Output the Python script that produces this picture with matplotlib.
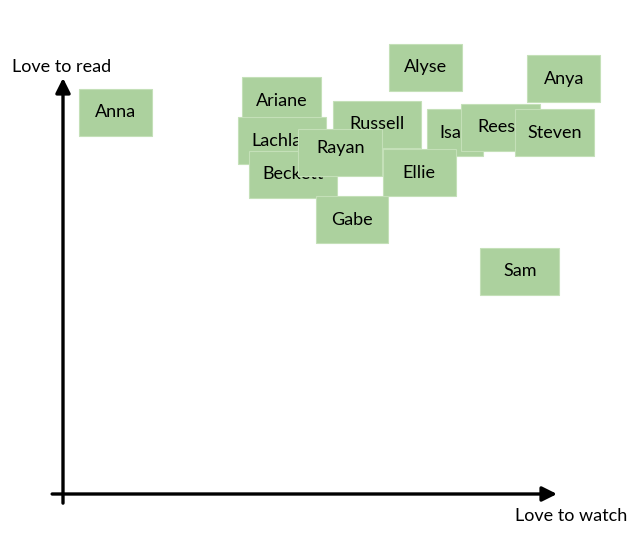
import matplotlib
matplotlib.use("Agg")
import matplotlib.pyplot as plt
from matplotlib.patches import Rectangle

# ---- data: position of each person's note (watch score, read score), drawn in this order
names = ["Ariane", "Lachlan", "Beckett", "Russell", "Rayan", "Gabe", "Isa",
         "Ellie", "Rees", "Steven", "Alyse", "Anya", "Sam", "Anna"]
watch = [4.43, 4.43, 4.66, 6.36, 5.61, 5.85, 7.94, 7.21, 8.85, 9.95, 7.33, 10.14, 9.25, 1.07]
read = [9.45, 8.49, 7.69, 8.89, 8.20, 6.59, 8.68, 7.72, 8.82, 8.68, 10.26, 9.98, 5.36, 9.18]
x_label = "Love to watch"
y_label = "Love to read"

# ---- style
note_w_px = {"Ariane": 79, "Lachlan": 88, "Beckett": 88, "Russell": 88, "Rayan": 84,
             "Gabe": 72, "Isa": 56, "Ellie": 73, "Rees": 79, "Steven": 79,
             "Alyse": 73, "Anya": 73, "Sam": 79, "Anna": 73}
text_dy_px = {"Rayan": 5}   # label sits a bit high in its note
text_dx_px = {"Isa": -5, "Rees": -4}
note_h_px = 47
note_color = "#acd19e"
note_edge = "#c4e0b8"
px_x = 49.4   # pixels per unit on x
px_y = 41.6   # pixels per unit on y
ox, oy = 63, 494  # origin pixel
W, H = 640, 538
fs = 13

plt.rcParams['font.family'] = ['Lato', 'DejaVu Sans']

fig = plt.figure(figsize=(W / 100, H / 100), dpi=100)
ax = fig.add_axes([0, 0, 1, 1])
ax.set_xlim(-ox / px_x, (W - ox) / px_x)
ax.set_ylim(-(H - oy) / px_y, oy / px_y)
ax.axis("off")

# axes arrows
ax.annotate("", xy=(0, 10), xytext=(0, -0.22),
            arrowprops=dict(arrowstyle="-|>", lw=2.4, color="black",
                            mutation_scale=22, shrinkA=0, shrinkB=0))
ax.annotate("", xy=(10, 0), xytext=(-0.22, 0),
            arrowprops=dict(arrowstyle="-|>", lw=2.4, color="black",
                            mutation_scale=22, shrinkA=0, shrinkB=0))
ax.text(-1.03, 10.26, y_label, ha="left", va="center", fontsize=fs, color="black")
ax.text(11.42, -0.53, x_label, ha="right", va="center", fontsize=fs, color="black")

z = 3
for n, xv, yv in zip(names, watch, read):
    w = note_w_px[n] / px_x
    h = note_h_px / px_y
    rect = Rectangle((xv - w / 2, yv - h / 2), w, h, facecolor=note_color,
                     edgecolor=note_edge, lw=0.8, zorder=z)
    ax.add_patch(rect)
    tx = xv + text_dx_px.get(n, 0) / px_x
    ty = yv + text_dy_px.get(n, 0) / px_y
    t = ax.text(tx, ty, n, ha="center", va="center", fontsize=fs,
                color="black", zorder=z + 0.5)
    t.set_clip_path(rect)
    z += 1

fig.savefig("out.png", dpi=100)
